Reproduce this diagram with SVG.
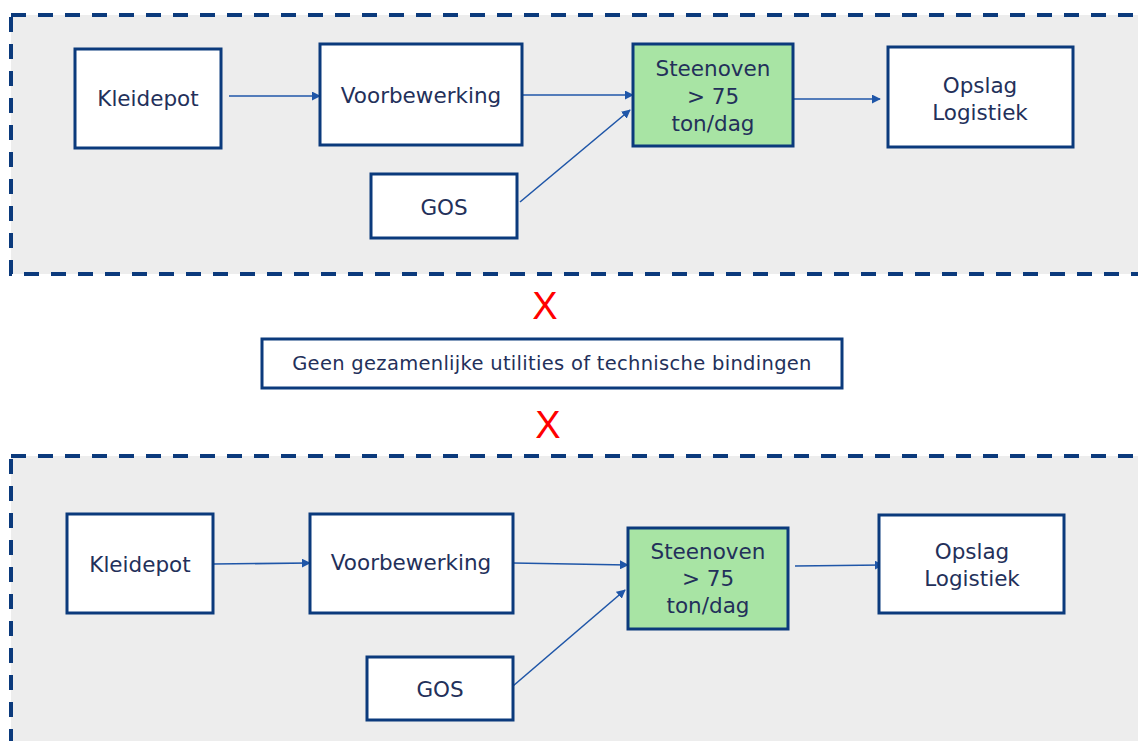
<svg xmlns="http://www.w3.org/2000/svg" width="1138" height="741" viewBox="0 0 1138 741">
<defs>
<marker id="ah" viewBox="0 0 10 10" refX="9" refY="5" markerWidth="9" markerHeight="9" markerUnits="userSpaceOnUse" orient="auto">
<path d="M0,0 L10,5 L0,10 z" fill="#1F56A8"/>
</marker>
</defs>
<style>
.frame{fill:#EDEDED;stroke:#0B3A7C;stroke-width:4;stroke-dasharray:15 12}
.box{fill:#FFFFFF;stroke:#0B3A7C;stroke-width:3}
.green{fill:#A8E4A4;stroke:#0B3A7C;stroke-width:3}
.t{font-family:"DejaVu Sans",Verdana,sans-serif;font-size:21.5px;fill:#23305A;text-anchor:middle}
.tm{font-family:"DejaVu Sans",Verdana,sans-serif;font-size:19.5px;letter-spacing:0.3px;fill:#23305A;text-anchor:middle}
.x{font-family:"Liberation Sans",Arial,sans-serif;font-size:38px;fill:#FF0000;text-anchor:middle}
.c{fill:none;stroke:#1F56A8;stroke-width:1.6;marker-end:url(#ah)}
</style>
<rect width="1138" height="741" fill="#FFFFFF"/>
<rect class="frame" x="11" y="15" width="1140" height="259"/>
<rect class="frame" x="11" y="456" width="1140" height="300"/>

<g id="connectors">
<line class="c" x1="229" y1="96" x2="320" y2="96"/>
<line class="c" x1="522" y1="95" x2="633" y2="95"/>
<line class="c" x1="520" y1="202" x2="630" y2="110"/>
<line class="c" x1="790" y1="99" x2="880" y2="99"/>
<line class="c" x1="213" y1="564" x2="310" y2="563"/>
<line class="c" x1="513" y1="563" x2="628" y2="565"/>
<line class="c" x1="513" y1="686" x2="625" y2="590"/>
<line class="c" x1="795" y1="566" x2="883" y2="565"/>
</g>

<g id="top-kleidepot"><rect class="box" x="75" y="49" width="146" height="99"/><text class="t" x="148" y="106">Kleidepot</text></g>
<g id="top-voorbewerking"><rect class="box" x="320" y="44" width="202" height="101"/><text class="t" x="421" y="103">Voorbewerking</text></g>
<g id="top-gos"><rect class="box" x="371" y="174" width="146" height="64"/><text class="t" x="444" y="215">GOS</text></g>
<g id="top-steenoven"><rect class="green" x="633" y="44" width="160" height="102"/><text class="t" x="713" y="76">Steenoven</text><text class="t" x="713" y="104">&gt; 75</text><text class="t" x="713" y="131">ton/dag</text></g>
<g id="top-opslag"><rect class="box" x="888" y="47" width="185" height="100"/><text class="t" x="980" y="93">Opslag</text><text class="t" x="980" y="120">Logistiek</text></g>

<g id="x1"><text class="x" x="545" y="319">X</text></g>
<g id="middle"><rect class="box" x="262" y="339" width="580" height="49"/><text class="tm" x="552" y="370">Geen gezamenlijke utilities of technische bindingen</text></g>
<g id="x2"><text class="x" x="548" y="438">X</text></g>

<g id="bot-kleidepot"><rect class="box" x="67" y="514" width="146" height="99"/><text class="t" x="140" y="572">Kleidepot</text></g>
<g id="bot-voorbewerking"><rect class="box" x="310" y="514" width="203" height="99"/><text class="t" x="411" y="570">Voorbewerking</text></g>
<g id="bot-gos"><rect class="box" x="367" y="657" width="146" height="63"/><text class="t" x="440" y="697">GOS</text></g>
<g id="bot-steenoven"><rect class="green" x="628" y="528" width="160" height="101"/><text class="t" x="708" y="559">Steenoven</text><text class="t" x="708" y="586">&gt; 75</text><text class="t" x="708" y="613">ton/dag</text></g>
<g id="bot-opslag"><rect class="box" x="879" y="515" width="185" height="98"/><text class="t" x="972" y="559">Opslag</text><text class="t" x="972" y="586">Logistiek</text></g>
</svg>
